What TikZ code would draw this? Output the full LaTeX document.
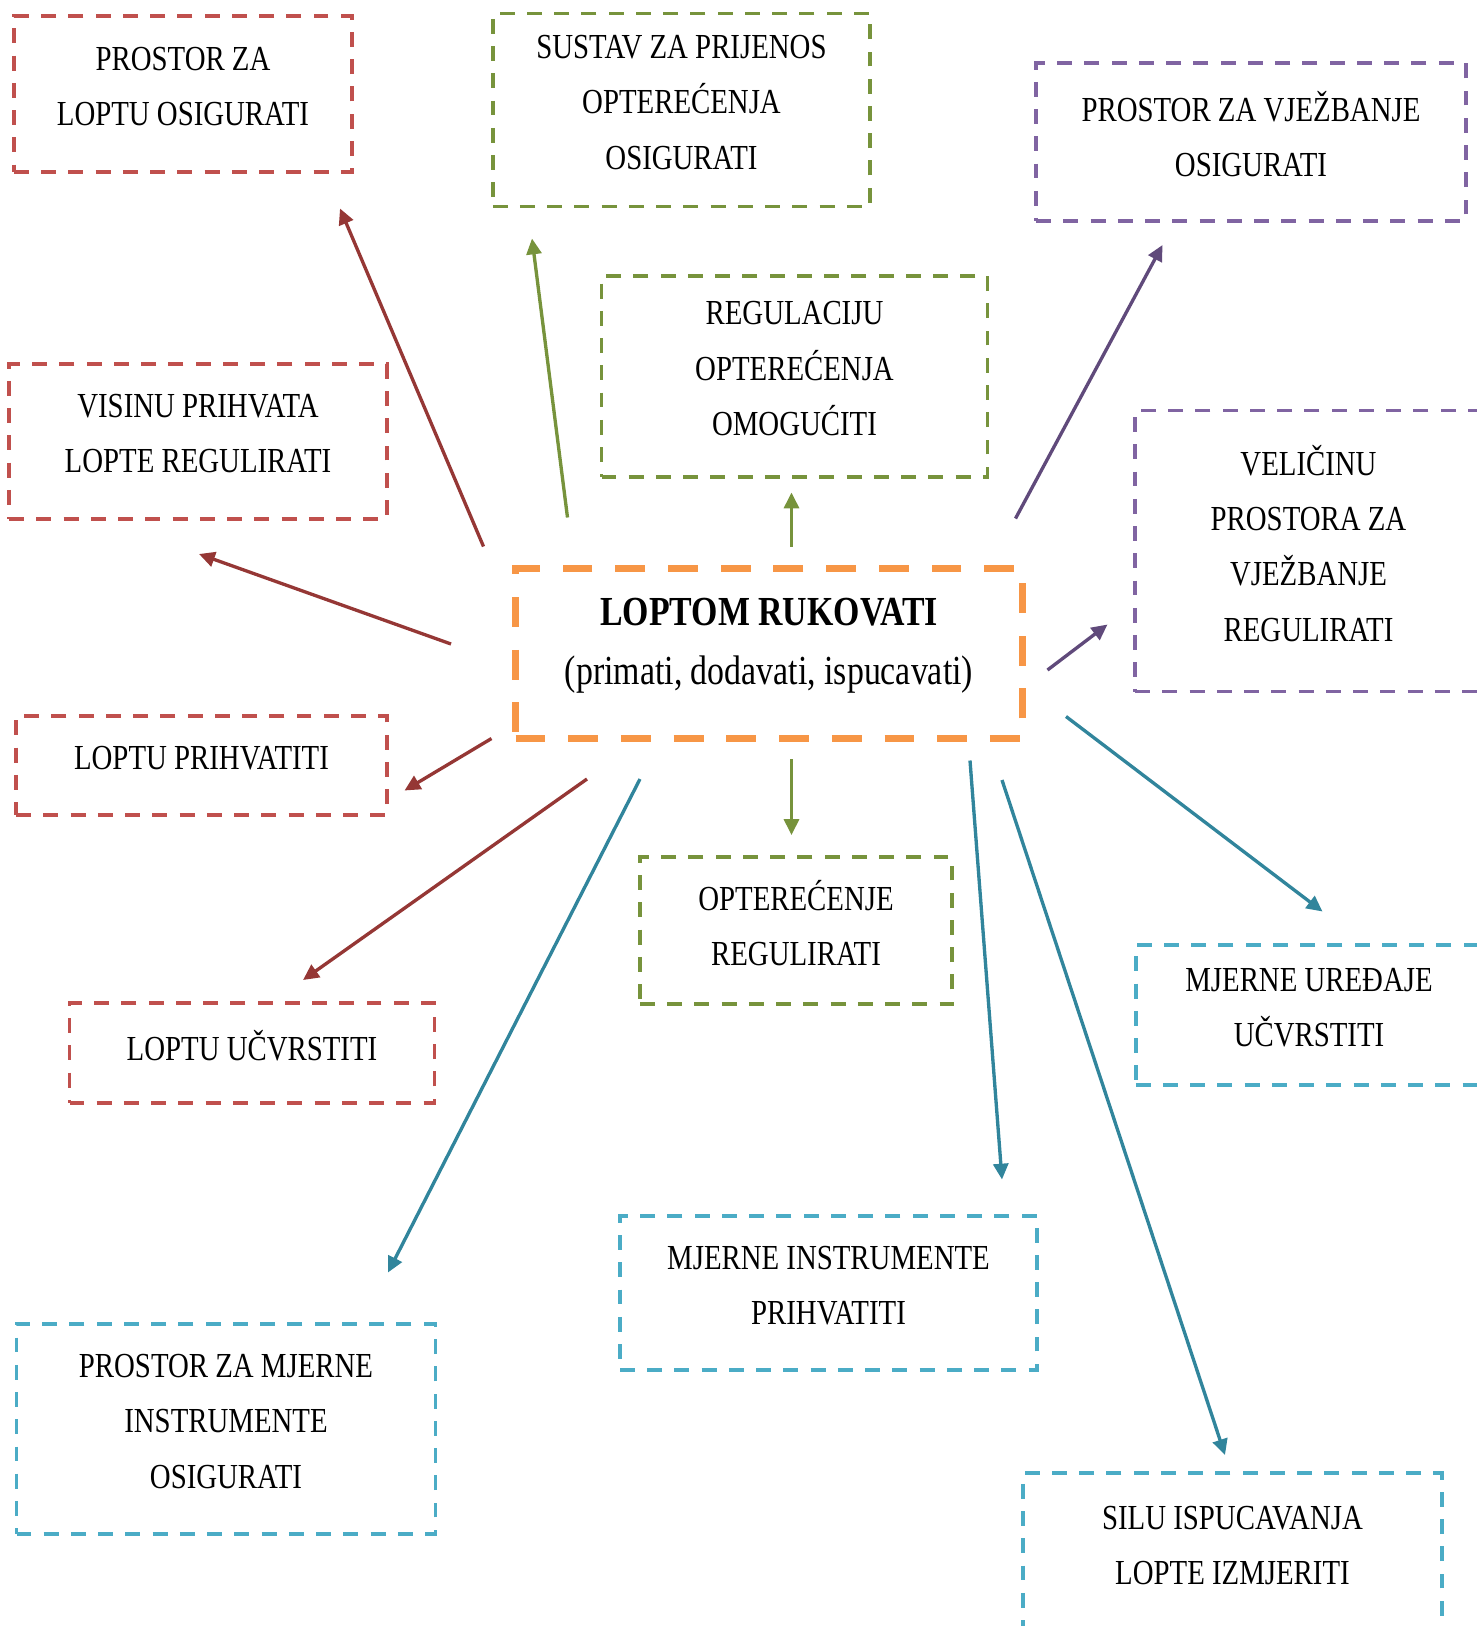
\documentclass[tikz,border=0pt]{standalone}
\usepackage{fontspec}
\setmainfont{Liberation Serif}[FakeStretch=0.82]
\usepackage{tikz}
\usepackage{xcolor}
\usetikzlibrary{
    arrows.meta,
    shapes,
    positioning,
    calc
}
\definecolor{boxred}{HTML}{C0504D}
\definecolor{arrowred}{HTML}{953735}
\definecolor{boxgreen}{HTML}{77933C}
\definecolor{boxpurple}{HTML}{8064A2}
\definecolor{arrowpurple}{HTML}{604A7B}
\definecolor{boxteal}{HTML}{4BACC6}
\definecolor{arrowteal}{HTML}{31859C}
\definecolor{boxorange}{HTML}{F79646}

\begin{document}
\begin{tikzpicture}[>={Triangle[length=9pt,width=8.5pt]},
    text-node/.style={rectangle, line width=2.2pt, dash pattern=on 8.5pt off 7pt,
        inner sep=0pt, align=center, font=\fontsize{20}{31.5}\selectfont,
        execute at end node={\rule[-9pt]{0pt}{0pt}}},
    main-node/.style={text-node, draw=boxorange, line width=3.8pt, dash pattern=on 17pt off 13pt,
        font=\fontsize{23.5}{34}\selectfont, execute at end node={\rule[-14pt]{0pt}{0pt}}},
    arrow-line/.style={->, line width=1.9pt}]
    \useasboundingbox (0,0) rectangle (29.54,-32.52);

    \node[main-node, minimum width=10.14cm, minimum height=3.40cm] (loptom) at (15.38,-13.07) {\textbf{LOPTOM RUKOVATI}\\(primati, dodavati, ispucavati)};

    \node[text-node, draw=boxred, minimum width=6.76cm, minimum height=3.12cm] (prostor-lopta) at (3.66,-1.88) {PROSTOR ZA\\LOPTU OSIGURATI};
    \node[text-node, draw=boxred, minimum width=7.55cm, minimum height=3.09cm] (visina) at (3.96,-8.83) {VISINU PRIHVATA\\LOPTE REGULIRATI};
    \node[text-node, draw=boxred, minimum width=7.41cm, minimum height=1.98cm] (prihvatiti) at (4.03,-15.31) {LOPTU PRIHVATITI};
    \node[text-node, draw=boxred, minimum width=7.30cm, minimum height=1.99cm] (ucvrstiti) at (5.04,-21.06) {LOPTU UČVRSTITI};

    \node[text-node, draw=boxgreen, minimum width=7.55cm, minimum height=3.86cm] (sustav) at (13.63,-2.20) {SUSTAV ZA PRIJENOS\\OPTEREĆENJA\\OSIGURATI};
    \node[text-node, draw=boxgreen, minimum width=7.72cm, minimum height=4.02cm] (regulacija) at (15.89,-7.53) {REGULACIJU\\OPTEREĆENJA\\OMOGUĆITI};
    \node[text-node, draw=boxgreen, minimum width=6.24cm, minimum height=2.95cm] (opterecenje) at (15.92,-18.61) {OPTEREĆENJE\\REGULIRATI};

    \node[text-node, draw=boxpurple, minimum width=8.59cm, minimum height=3.15cm] (prostor-vjezbanje) at (25.02,-2.84) {PROSTOR ZA VJEŽBANJE\\OSIGURATI};
    \node[text-node, draw=boxpurple, minimum width=6.93cm, minimum height=5.62cm] (velicina) at (26.17,-11.02) {VELIČINU\\PROSTORA ZA\\VJEŽBANJE\\REGULIRATI};

    \node[text-node, draw=boxteal, minimum width=6.93cm, minimum height=2.80cm] (uredaji) at (26.18,-20.30) {MJERNE UREĐAJE\\UČVRSTITI};
    \node[text-node, draw=boxteal, minimum width=8.34cm, minimum height=3.09cm] (instrumenti) at (16.57,-25.86) {MJERNE INSTRUMENTE\\PRIHVATITI};
    \node[text-node, draw=boxteal, minimum width=8.38cm, minimum height=4.21cm] (prostor-mjerni) at (4.52,-28.58) {PROSTOR ZA MJERNE\\INSTRUMENTE\\OSIGURATI};
    \node[text-node, draw=boxteal, minimum width=8.37cm, minimum height=3.20cm] (silu) at (24.65,-31.06) {SILU ISPUCAVANJA\\LOPTE IZMJERITI};

    \coordinate (prostor-lopta-from) at (9.67,-10.93);
    \coordinate (prostor-lopta-to) at (6.80,-4.17);
    \coordinate (visina-from) at (9.02,-12.88);
    \coordinate (visina-to) at (3.98,-11.08);
    \coordinate (prihvatiti-from) at (9.83,-14.77);
    \coordinate (prihvatiti-to) at (8.09,-15.81);
    \coordinate (ucvrstiti-from) at (11.74,-15.58);
    \coordinate (ucvrstiti-to) at (6.06,-19.60);
    \coordinate (sustav-from) at (11.35,-10.35);
    \coordinate (sustav-to) at (10.64,-4.77);
    \coordinate (regulacija-from) at (15.83,-10.93);
    \coordinate (regulacija-to) at (15.83,-9.85);
    \coordinate (opterecenje-from) at (15.83,-15.18);
    \coordinate (opterecenje-to) at (15.83,-16.70);
    \coordinate (prostor-vjezbanje-from) at (20.31,-10.37);
    \coordinate (prostor-vjezbanje-to) at (23.25,-4.90);
    \coordinate (velicina-from) at (20.95,-13.40);
    \coordinate (velicina-to) at (22.15,-12.49);
    \coordinate (uredaji-from) at (21.32,-14.33);
    \coordinate (uredaji-to) at (26.45,-18.23);
    \coordinate (instrumenti-from) at (19.40,-15.21);
    \coordinate (instrumenti-to) at (20.04,-23.59);
    \coordinate (silu-from) at (20.04,-15.60);
    \coordinate (silu-to) at (24.50,-29.10);
    \coordinate (prostor-mjerni-from) at (12.80,-15.58);
    \coordinate (prostor-mjerni-to) at (7.76,-25.45);

    \draw [arrow-line, arrowred] (prostor-lopta-from) -- (prostor-lopta-to);
    \draw [arrow-line, arrowred] (visina-from) -- (visina-to);
    \draw [arrow-line, arrowred] (prihvatiti-from) -- (prihvatiti-to);
    \draw [arrow-line, arrowred] (ucvrstiti-from) -- (ucvrstiti-to);
    \draw [arrow-line, boxgreen] (sustav-from) -- (sustav-to);
    \draw [arrow-line, boxgreen] (regulacija-from) -- (regulacija-to);
    \draw [arrow-line, boxgreen] (opterecenje-from) -- (opterecenje-to);
    \draw [arrow-line, arrowpurple] (prostor-vjezbanje-from) -- (prostor-vjezbanje-to);
    \draw [arrow-line, arrowpurple] (velicina-from) -- (velicina-to);
    \draw [arrow-line, arrowteal] (uredaji-from) -- (uredaji-to);
    \draw [arrow-line, arrowteal] (instrumenti-from) -- (instrumenti-to);
    \draw [arrow-line, arrowteal] (silu-from) -- (silu-to);
    \draw [arrow-line, arrowteal] (prostor-mjerni-from) -- (prostor-mjerni-to);
\end{tikzpicture}
\end{document}
